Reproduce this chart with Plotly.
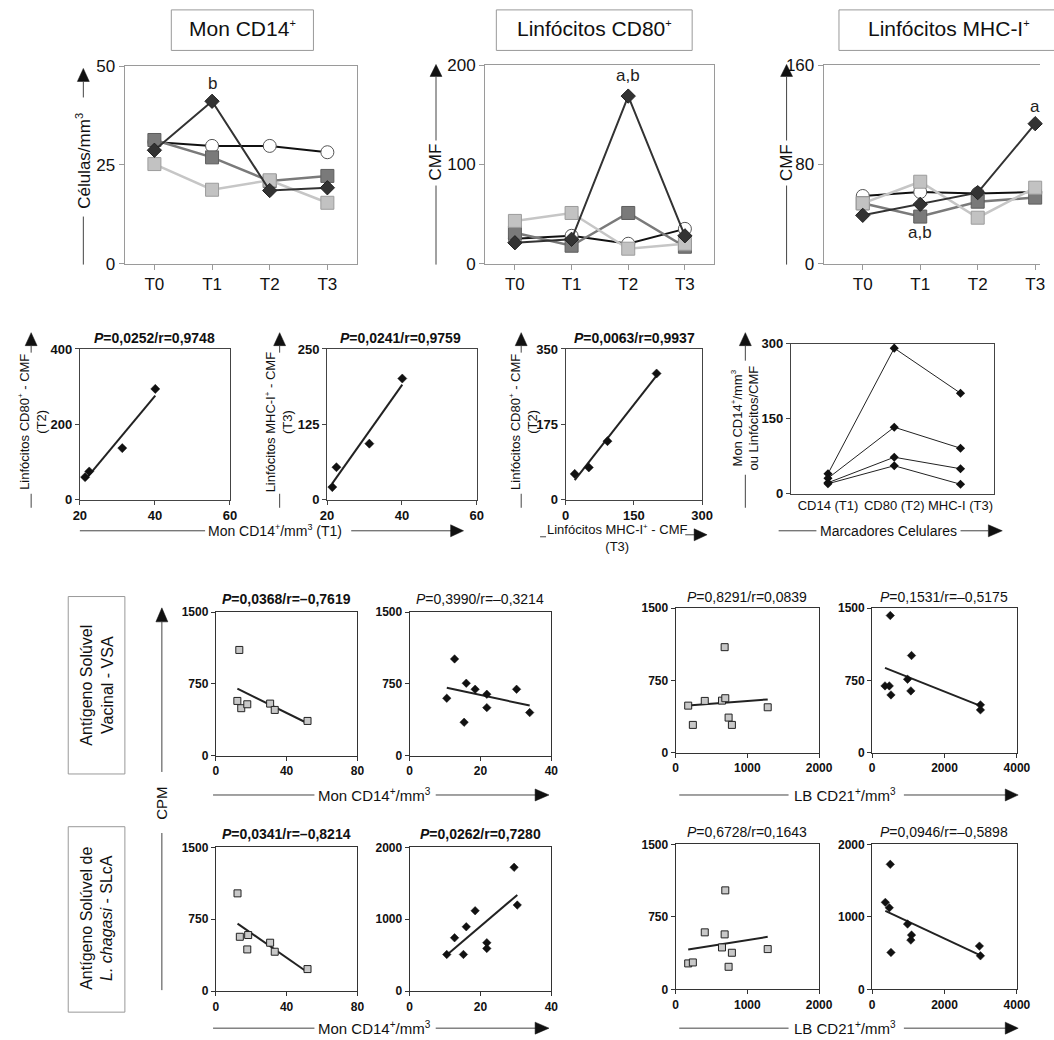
import numpy as np
import plotly.graph_objects as go

W, H = 1054, 1040
# the photographed page comes out slightly shrunk and shifted down; positions below are
# written in reference-picture pixels and mapped back to page pixels
SX, AX = 0.986, 0.7
SY, AY = 0.981, 9.6
FONT = "Liberation Sans, Arial, Helvetica, sans-serif"

# ---------------- data: top row (time course) ----------------
times = ["T0", "T1", "T2", "T3"]

mon_circle = [30.8, 29.8, 29.8, 28.2]
mon_dark_sq = [31.3, 26.9, 20.9, 22.2]
mon_light_sq = [25.2, 18.7, 21.1, 15.4]
mon_diamond = [28.7, 41.1, 18.5, 19.2]

cd80_circle = [25, 28, 20, 35]
cd80_dark_sq = [31, 18, 51, 17]
cd80_light_sq = [43, 51, 15, 20]
cd80_diamond = [21, 24.5, 168.8, 28]

mhc_circle = [54.5, 57.7, 56.6, 57.7]
mhc_dark_sq = [48.6, 37.9, 49.9, 53.2]
mhc_light_sq = [48.6, 66.0, 37.0, 61.2]
mhc_diamond = [38.9, 47.8, 57.2, 112.8]

# ---------------- data: middle row (correlations) ----------------
mon_t1 = [21.4, 22.5, 31.3, 40.1]
cd80_t2_a = [60, 75, 137, 294]
mhc_t3_b = [21, 54, 93, 201]
mhc_t3_c = [20, 51, 92, 200]
cd80_t2_c = [60, 75, 136, 293]

marker_cats = ["CD14 (T1)", "CD80 (T2)", "MHC-I (T3)"]
animal_1 = [40, 291, 201]
animal_2 = [31, 133, 91]
animal_3 = [22, 73, 50]
animal_4 = [20, 56, 19]

# ---------------- data: bottom rows (CPM) ----------------
vsa_mon_sq_x = [13.3, 12.2, 14.4, 17.8, 30.7, 33.3, 51.8]
vsa_mon_sq_y = [1105, 572, 496, 537, 544, 478, 363]
vsa_mon_dm_x = [10.5, 12.7, 15.4, 16.0, 18.5, 21.8, 21.8, 30.2, 33.9]
vsa_mon_dm_y = [600, 1011, 349, 757, 694, 642, 502, 694, 450]
vsa_lb_sq_x = [176, 241, 407, 647, 693, 684, 739, 785, 1284]
vsa_lb_sq_y = [488, 288, 537, 540, 565, 1095, 364, 288, 471]
vsa_lb_dm_x = [357, 476, 503, 522, 980, 1071, 1090, 2993, 2993]
vsa_lb_dm_y = [693, 693, 1423, 599, 762, 641, 1008, 496, 444]

slca_mon_sq_x = [12.3, 13.6, 17.8, 18.3, 30.7, 33.3, 51.8]
slca_mon_sq_y = [1020, 567, 435, 585, 505, 411, 230]
slca_mon_dm_x = [10.5, 12.7, 15.2, 16.0, 18.5, 21.8, 21.8, 29.5, 30.4]
slca_mon_dm_y = [510, 742, 510, 895, 1118, 673, 594, 1722, 1197]
slca_lb_sq_x = [176, 241, 407, 647, 693, 684, 739, 785, 1284]
slca_lb_sq_y = [269, 279, 590, 434, 1024, 569, 234, 379, 417]
slca_lb_dm_x = [366, 476, 503, 522, 980, 1090, 1071, 2965, 2993]
slca_lb_dm_y = [1200, 1126, 1724, 510, 901, 749, 680, 597, 463]


def X(p):
    return ((p - AX) / SX) / W


def Y(p):
    return 1 - ((p - AY) / SY) / H


def clamp(v):
    return min(1.0, max(0.0, v))


RIGHT_EDGE = W * SX + AX   # reference x that lands on the page's right edge

fig = go.Figure()
layout = dict(width=W, height=H, margin=dict(l=0, r=0, t=0, b=0),
              paper_bgcolor="white", plot_bgcolor="white", showlegend=False,
              font=dict(family=FONT, color="#111"))
shapes, annotations = [], []
count = [0]


def new_axes(xd, yd, xa, ya):
    count[0] += 1
    s = "" if count[0] == 1 else str(count[0])
    xa = dict(xa)
    ya = dict(ya)
    xa.update(domain=[clamp(X(xd[0])), clamp(X(xd[1]))], anchor="y" + s)
    ya.update(domain=[clamp(Y(yd[1])), clamp(Y(yd[0]))], anchor="x" + s)
    layout["xaxis" + s] = xa
    layout["yaxis" + s] = ya
    return "x" + s, "y" + s


def hline(x0, y0, x1, y1, color="#444", width=1):
    shapes.append(dict(type="line", xref="paper", yref="paper", x0=X(x0), y0=Y(y0),
                       x1=X(x1), y1=Y(y1), line=dict(color=color, width=width)))


def up_arrow(x, tip, base, hw=6, color="#111"):
    path = f"M {X(x)} {Y(tip)} L {X(x - hw)} {Y(base)} L {X(x + hw)} {Y(base)} Z"
    shapes.append(dict(type="path", xref="paper", yref="paper", path=path,
                       fillcolor=color, line=dict(color=color, width=0.5)))


def right_arrow(tip, y, base, hh=6, color="#111"):
    path = f"M {X(tip)} {Y(y)} L {X(base)} {Y(y - hh)} L {X(base)} {Y(y + hh)} Z"
    shapes.append(dict(type="path", xref="paper", yref="paper", path=path,
                       fillcolor=color, line=dict(color=color, width=0.5)))


def text(x, y, s, size, angle=0, color="#111", xanchor="center", yanchor="middle"):
    annotations.append(dict(xref="paper", yref="paper", x=X(x), y=Y(y), text=s,
                            showarrow=False, textangle=angle, xanchor=xanchor,
                            yanchor=yanchor, font=dict(size=size, color=color, family=FONT)))


def rect(x0, y0, x1, y1, color="#999"):
    shapes.append(dict(type="rect", xref="paper", yref="paper", x0=X(x0), y0=Y(y1),
                       x1=X(x1), y1=Y(y0), line=dict(color=color, width=1),
                       fillcolor="rgba(0,0,0,0)"))


def fit_line(xs, ys):
    xs = np.array(xs, float)
    ys = np.array(ys, float)
    m, b = np.polyfit(xs, ys, 1)
    xx = np.array([xs.min(), xs.max()])
    return xx, m * xx + b


def sup(s, px):
    return f"<sup><span style='font-size:{px}px'>{s}</span></sup>"


# ---------------- top row ----------------
GR = "#9a9a9a"
TOP_STYLES = [
    (dict(color="#111", width=2), dict(symbol="circle", size=13, color="white", line=dict(color="#555", width=1))),
    (dict(color="#7a7a7a", width=2.5), dict(symbol="square", size=13, color="#7a7a7a", line=dict(color="#5e5e5e", width=1))),
    (dict(color="#c6c6c6", width=2.5), dict(symbol="square", size=13, color="#c2c2c2", line=dict(color="#9c9c9c", width=1))),
    (dict(color="#333", width=2), dict(symbol="diamond", size=11, color="#333", line=dict(color="#222", width=1))),
]


def top_panel(xd, yd, xr, yr, yticks, series, mirror_y=True):
    xa = dict(type="category", categoryorder="array", categoryarray=times, range=xr,
              showline=True, linecolor=GR, linewidth=1, mirror=True, ticks="outside",
              ticklen=5, tickcolor=GR, tickfont=dict(size=17, color="#111"),
              showgrid=False, zeroline=False)
    ya = dict(range=yr, tickvals=yticks, showline=True, linecolor=GR, linewidth=1,
              mirror=mirror_y, ticks="outside", ticklen=5, tickcolor=GR,
              tickfont=dict(size=17, color="#111"), showgrid=False, zeroline=False)
    xr_, yr_ = new_axes(xd, yd, xa, ya)
    for vals, (ln, mk) in zip(series, TOP_STYLES):
        fig.add_trace(go.Scatter(x=times, y=vals, mode="lines+markers", line=ln,
                                 marker=mk, xaxis=xr_, yaxis=yr_, cliponaxis=False))
    return xr_, yr_


ax1 = top_panel((119, 353), (66.7, 264), [-0.517, 3.517], [0, 50], [0, 25, 50],
                [mon_circle, mon_dark_sq, mon_light_sq, mon_diamond])
ax2 = top_panel((481.7, 712), (65.7, 264), [-0.526, 3.514], [0, 200], [0, 100, 200],
                [cd80_circle, cd80_dark_sq, cd80_light_sq, cd80_diamond])
# right edge of the third panel is cut by the page edge
p3_right = (RIGHT_EDGE - 861.7) / 57.8
ax3 = top_panel((822.3, RIGHT_EDGE), (65.7, 264), [-0.68, p3_right], [0, 160], [0, 80, 160],
                [mhc_circle, mhc_dark_sq, mhc_light_sq, mhc_diamond], mirror_y=False)


def data_text(ax, x, y, s):
    annotations.append(dict(xref=ax[0], yref=ax[1], x=x, y=y, text=s, showarrow=False,
                            font=dict(size=17, color="#222", family=FONT)))


data_text(ax1, "T1", 45.6, "b")
data_text(ax2, "T2", 190, "a,b")
data_text(ax3, "T3", 126.5, "a")
data_text(ax3, "T1", 25.0, "a,b")

# title boxes
rect(166, 10.5, 309, 51)
text(237.5, 29, "Mon CD14" + sup("+", 11), 21)
rect(493, 10.5, 690, 51)
text(591.5, 29, "Linfócitos CD80" + sup("+", 11), 21)
rect(837.7, 10.5, 1080, 51)
text(948, 29, "Linfócitos MHC-I" + sup("+", 11), 21)

# y titles top row
up_arrow(77.5, 69, 82)
hline(77.5, 82, 77.5, 98)
text(77.5, 161, "Células/mm" + sup("3", 11), 17, angle=-90)
hline(77.5, 217, 77.5, 265)
for xx in (432.3, 785):
    up_arrow(xx, 65, 77)
    hline(xx, 77, xx, 141)
    text(xx, 163, "CMF", 17, angle=-90)
    hline(xx, 186, xx, 265)

# ---------------- middle row ----------------
def bold_axis(rng, ticks, lc="#444", size=13):
    return dict(range=rng, tickvals=ticks, ticktext=[f"<b>{t}</b>" for t in ticks],
                showline=True, linecolor=lc, linewidth=1, mirror=True, ticks="outside",
                ticklen=4, tickcolor=lc, tickfont=dict(size=size, color="#111"),
                showgrid=False, zeroline=False)


def scatter_fit(ax, xs, ys, marker):
    fx, fy = fit_line(xs, ys)
    fig.add_trace(go.Scatter(x=fx, y=fy, mode="lines", line=dict(color="#222", width=2),
                             xaxis=ax[0], yaxis=ax[1]))
    fig.add_trace(go.Scatter(x=xs, y=ys, mode="markers", marker=marker,
                             xaxis=ax[0], yaxis=ax[1], cliponaxis=False))


MID_DM = dict(symbol="diamond", size=7, color="#111", line=dict(color="#111", width=0.5))

axA = new_axes((74, 225), (349.3, 500), bold_axis([20, 60], [20, 40, 60]), bold_axis([0, 400], [0, 200, 400]))
scatter_fit(axA, mon_t1, cd80_t2_a, MID_DM)
axB = new_axes((322.7, 473.3), (349.3, 500), bold_axis([20, 60], [20, 40, 60]), bold_axis([0, 250], [0, 125, 250]))
scatter_fit(axB, mon_t1, mhc_t3_b, MID_DM)
axC = new_axes((562.7, 700), (349.3, 500), bold_axis([0, 300], [0, 150, 300]), bold_axis([0, 350], [0, 175, 350]))
scatter_fit(axC, mhc_t3_c, cd80_t2_c, MID_DM)

xaD = dict(type="category", categoryorder="array", categoryarray=marker_cats, range=[-0.56, 2.5],
           showline=True, linecolor="#444", linewidth=1, mirror=True, ticks="", tickfont=dict(size=13, color="#111"),
           showgrid=False, zeroline=False)
axD = new_axes((789.3, 993.3), (344, 494), xaD, bold_axis([0, 300], [0, 150, 300]))
for prof in (animal_1, animal_2, animal_3, animal_4):
    fig.add_trace(go.Scatter(x=marker_cats, y=prof, mode="lines+markers",
                             line=dict(color="#222", width=1),
                             marker=dict(symbol="diamond", size=7, color="#111"),
                             xaxis=axD[0], yaxis=axD[1], cliponaxis=False))

text(149, 338, "<b><i>P</i>=0,0252/r=0,9748</b>", 14)
text(397, 338, "<b><i>P</i>=0,0241/r=0,9759</b>", 14)
text(632, 338, "<b><i>P</i>=0,0063/r=0,9937</b>", 14)

# middle y titles
for xc, xa_, s in ((26, 25, "Linfócitos CD80" + sup("+", 8) + " - CMF<br>(T2)"),
                   (274, 275, "Linfócitos MHC-I" + sup("+", 8) + " - CMF<br>(T3)"),
                   (520, 518, "Linfócitos CD80" + sup("+", 8) + " - CMF<br>(T2)")):
    up_arrow(xa_, 333, 346, hw=6)
    hline(xa_, 346, xa_, 353)
    text(xc, 422, s, 13, angle=-90)
    hline(xa_, 494, xa_, 508)
up_arrow(743.5, 333, 346, hw=6)
hline(743.5, 346, 743.5, 361)
text(743, 418, "Mon CD14" + sup("+", 8) + "/mm" + sup("3", 8) + "<br>ou Linfócitos/CMF", 13, angle=-90)
hline(743.5, 475, 743.5, 508)

# middle x titles
hline(74, 531, 200, 531)
text(270, 531, "Mon CD14" + sup("+", 9) + "/mm" + sup("3", 9) + " (T1)", 14)
hline(347, 531, 448, 531)
right_arrow(460, 531, 447, hh=6)

hline(537, 537, 543, 537)
text(615, 538, "Linfócitos MHC-I" + sup("+", 8) + " - CMF<br>(T3)", 13)
hline(683, 535, 693, 535)
right_arrow(705, 535, 692, hh=6)

hline(777, 531, 815, 531)
text(888, 531, "Marcadores Celulares", 14)
hline(960, 531, 988, 531)
right_arrow(1002, 531, 988, hh=6)

# ---------------- bottom rows ----------------
SQ = dict(symbol="square", size=7, color="#c8c8c8", line=dict(color="#222", width=1))
DM = dict(symbol="diamond", size=6.5, color="#111", line=dict(color="#111", width=0.5))
LC = "#333"

axE = new_axes((210.7, 353.3), (612.3, 755.7), bold_axis([0, 80], [0, 40, 80], LC, 12), bold_axis([0, 1500], [0, 750, 1500], LC, 12))
scatter_fit(axE, vsa_mon_sq_x, vsa_mon_sq_y, SQ)
axF = new_axes((405.7, 548.3), (612.3, 755.7), bold_axis([0, 40], [0, 20, 40], LC, 12), bold_axis([0, 1500], [0, 750, 1500], LC, 12))
scatter_fit(axF, vsa_mon_dm_x, vsa_mon_dm_y, DM)
axG = new_axes((673.3, 817.7), (608.3, 752.7), bold_axis([0, 2000], [0, 1000, 2000], LC, 12), bold_axis([0, 1500], [0, 750, 1500], LC, 12))
scatter_fit(axG, vsa_lb_sq_x, vsa_lb_sq_y, SQ)
axH = new_axes((871, 1016.7), (608.3, 752.7), bold_axis([0, 4000], [0, 2000, 4000], LC, 12), bold_axis([0, 1500], [0, 750, 1500], LC, 12))
scatter_fit(axH, vsa_lb_dm_x, vsa_lb_dm_y, DM)

axI = new_axes((210.7, 353.3), (847.3, 991), bold_axis([0, 80], [0, 40, 80], LC, 12), bold_axis([0, 1500], [0, 750, 1500], LC, 12))
scatter_fit(axI, slca_mon_sq_x, slca_mon_sq_y, SQ)
axJ = new_axes((405.7, 548.3), (847.3, 991), bold_axis([0, 40], [0, 20, 40], LC, 12), bold_axis([0, 2000], [0, 1000, 2000], LC, 12))
scatter_fit(axJ, slca_mon_dm_x, slca_mon_dm_y, DM)
axK = new_axes((673.3, 817.7), (844.3, 989.3), bold_axis([0, 2000], [0, 1000, 2000], LC, 12), bold_axis([0, 1500], [0, 750, 1500], LC, 12))
scatter_fit(axK, slca_lb_sq_x, slca_lb_sq_y, SQ)
axL = new_axes((871, 1016.7), (844.3, 989.3), bold_axis([0, 4000], [0, 2000, 4000], LC, 12), bold_axis([0, 2000], [0, 1000, 2000], LC, 12))
scatter_fit(axL, slca_lb_dm_x, slca_lb_dm_y, DM)

text(282, 599, "<b><i>P</i>=0,0368/r=–0,7619</b>", 14)
text(477, 599, "<i>P</i>=0,3990/r=–0,3214", 14)
text(745, 597, "<i>P</i>=0,8291/r=0,0839", 14)
text(943, 597, "<i>P</i>=0,1531/r=–0,5175", 14)
text(282, 834, "<b><i>P</i>=0,0341/r=–0,8214</b>", 14)
text(477, 834, "<b><i>P</i>=0,0262/r=0,7280</b>", 14)
text(745, 832, "<i>P</i>=0,6728/r=0,1643", 14)
text(943, 832, "<i>P</i>=0,0946/r=–0,5898", 14)

# bottom x titles
for yy in (795, 1028):
    hline(208, yy, 310, yy)
    text(370, yy, "Mon CD14" + sup("+", 10) + "/mm" + sup("3", 10), 15)
    hline(432, yy, 533, yy)
    right_arrow(546, yy, 532, hh=6)
    hline(677, yy, 787, yy)
    text(844, yy, "LB CD21" + sup("+", 10) + "/mm" + sup("3", 10), 15)
    hline(903, yy, 1006, yy)
    right_arrow(1018, yy, 1005, hh=6)

# CPM axis
up_arrow(156.5, 608, 622, hw=6)
hline(156.5, 622, 156.5, 772)
text(156.5, 803, "CPM", 15, angle=-90)
hline(156.5, 833, 156.5, 990)

# row label boxes
rect(62.3, 596.7, 119.3, 774)
text(91, 685, "Antígeno Solúvel<br>Vacinal - VSA", 16, angle=-90)
rect(62.3, 826.7, 119.3, 1012)
text(91, 918, "Antígeno Solúvel de<br><i>L. chagasi</i> - SLcA", 16, angle=-90)

layout["shapes"] = shapes
layout["annotations"] = annotations
fig.update_layout(**layout)
fig.write_html("out.html", config={"displayModeBar": False},
               post_script="document.body.style.margin='0px';")
